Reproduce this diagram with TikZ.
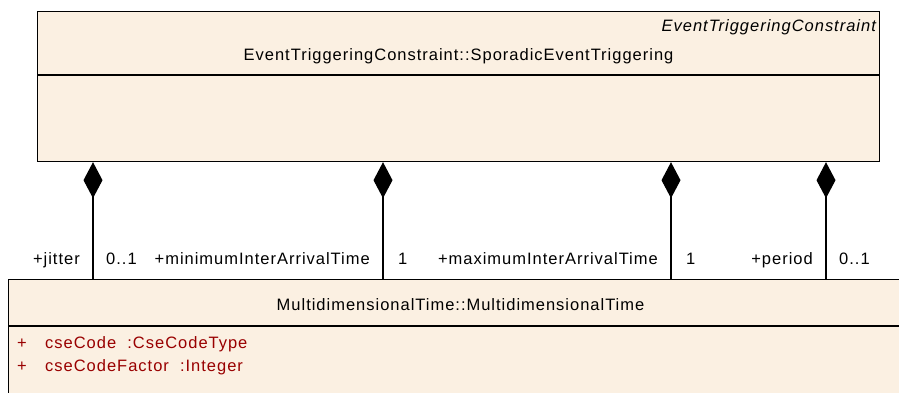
\documentclass[tikz,border=0pt]{standalone}
\usepackage{fontspec}
\setmainfont[LetterSpace=6]{Liberation Sans}
\usetikzlibrary{
  arrows.meta,
  positioning,
  calc
}
\definecolor{umlFill}{RGB}{251,240,226}
\definecolor{umlRed}{RGB}{153,0,0}
\tikzset{
  umlpart/.style={
    draw=black,
    fill=umlFill,
    line width=1.1pt,
    inner sep=0pt,
    anchor=north west
  },
  umltext/.style={font=\fontsize{16.5}{20}\selectfont, inner sep=0pt},
  umlattr/.style={umltext, text=umlRed, anchor=base west},
  rolelabel/.style={umltext, anchor=base east},
  multlabel/.style={umltext, anchor=base west},
  composition/.style={
    {Diamond[length=36pt,width=19pt]}-,
    line width=1.1pt
  }
}
\begin{document}
\begin{tikzpicture}[x=1pt,y=-1pt]
  \useasboundingbox (0,0) rectangle (899,392);
  % sporadic event triggering class
  \node[umlpart, minimum width=842pt, minimum height=63pt] (sporHead) at (37,11) {};
  \node[umlpart, minimum width=842pt, minimum height=86pt] (sporBody) at (sporHead.south west) {};
  \node[umltext, font=\fontsize{16.5}{20}\selectfont\itshape, anchor=base east] (sporStereo)
    at ($(sporHead.north east)+(-4,20)$) {EventTriggeringConstraint};
  \node[umltext, anchor=base] (sporName) at ($(sporHead.north)+(0,49)$)
    {EventTriggeringConstraint::SporadicEventTriggering};
  % multidimensional time class
  \node[umlpart, minimum width=904pt, minimum height=46pt] (mtHead) at (8,279) {};
  \node[umlpart, minimum width=904pt, minimum height=100pt] (mtBody) at (mtHead.south west) {};
  \node[umltext, anchor=base] (mtName) at ($(mtHead.north)+(0,31)$)
    {MultidimensionalTime::MultidimensionalTime};
  \node[umlattr] (plusA) at ($(mtBody.north west)+(9,22)$) {+};
  \node[umlattr] (attrA) at ($(mtBody.north west)+(37,22)$) {cseCode~ :CseCodeType};
  \node[umlattr] (plusB) at ($(mtBody.north west)+(9,45)$) {+};
  \node[umlattr] (attrB) at ($(mtBody.north west)+(37,45)$) {cseCodeFactor~ :Integer};
  % compositions
  \coordinate (jitterTop) at ($(sporBody.south west)+(56,0)$);
  \coordinate (minIatTop) at ($(sporBody.south west)+(346,0)$);
  \coordinate (maxIatTop) at ($(sporBody.south west)+(634,0)$);
  \coordinate (periodTop) at ($(sporBody.south west)+(789,0)$);
  \draw[composition] (jitterTop) -- (jitterTop |- mtHead.north);
  \draw[composition] (minIatTop) -- (minIatTop |- mtHead.north);
  \draw[composition] (maxIatTop) -- (maxIatTop |- mtHead.north);
  \draw[composition] (periodTop) -- (periodTop |- mtHead.north);
  \node[rolelabel] (jitterRole) at ($(jitterTop |- mtHead.north)+(-13,-15)$) {+jitter};
  \node[multlabel] (jitterMult) at ($(jitterTop |- mtHead.north)+(13,-15)$) {0..1};
  \node[rolelabel] (minIatRole) at ($(minIatTop |- mtHead.north)+(-13,-15)$) {+minimumInterArrivalTime};
  \node[multlabel] (minIatMult) at ($(minIatTop |- mtHead.north)+(15,-15)$) {1};
  \node[rolelabel] (maxIatRole) at ($(maxIatTop |- mtHead.north)+(-13,-15)$) {+maximumInterArrivalTime};
  \node[multlabel] (maxIatMult) at ($(maxIatTop |- mtHead.north)+(15,-15)$) {1};
  \node[rolelabel] (periodRole) at ($(periodTop |- mtHead.north)+(-13,-15)$) {+period};
  \node[multlabel] (periodMult) at ($(periodTop |- mtHead.north)+(13,-15)$) {0..1};
\end{tikzpicture}
\end{document}
